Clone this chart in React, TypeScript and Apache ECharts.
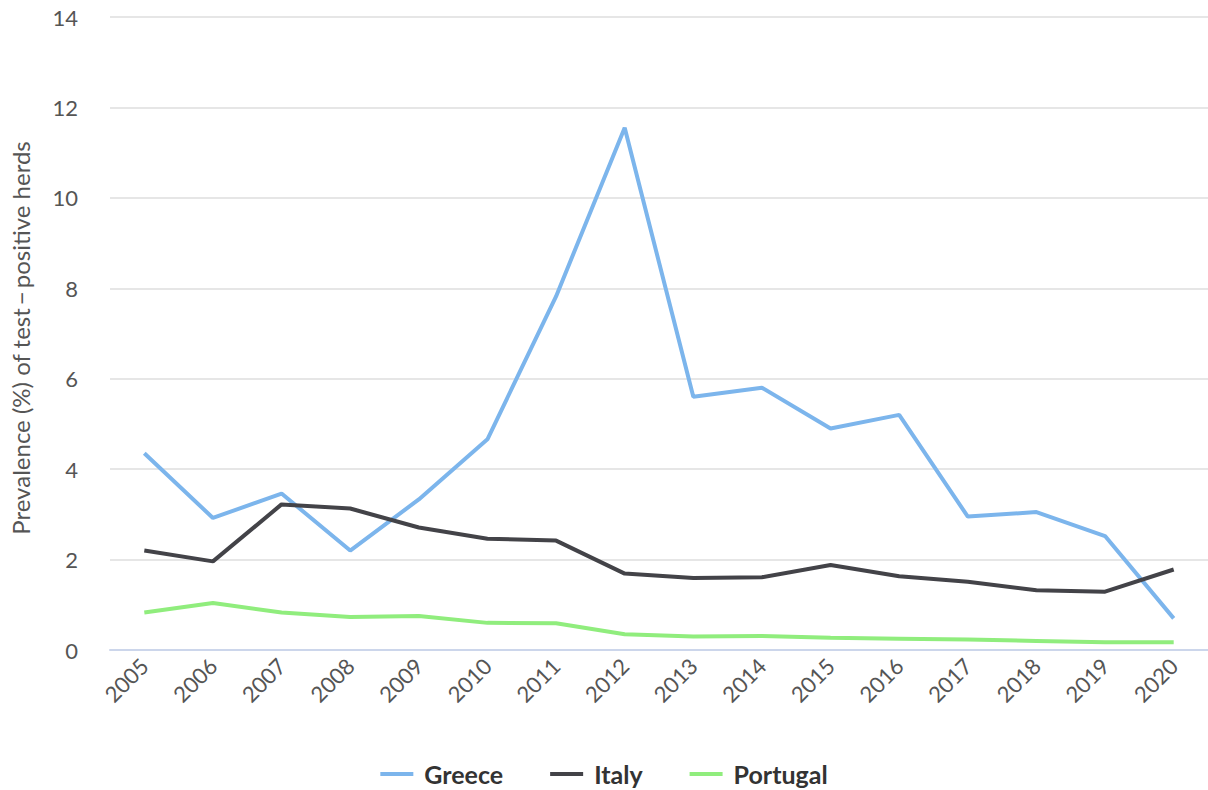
import React, { useEffect, useRef } from "react";
import * as echarts from "echarts";

const years = ["2005","2006","2007","2008","2009","2010","2011","2012","2013","2014","2015","2016","2017","2018","2019","2020"];
const greece = [4.35, 2.92, 3.46, 2.2, 3.33, 4.66, 7.82, 11.55, 5.6, 5.8, 4.9, 5.2, 2.95, 3.05, 2.52, 0.7];
const italy = [2.2, 1.96, 3.22, 3.13, 2.71, 2.46, 2.42, 1.69, 1.59, 1.61, 1.88, 1.63, 1.51, 1.32, 1.29, 1.78];
const portugal = [0.83, 1.04, 0.83, 0.73, 0.75, 0.6, 0.59, 0.35, 0.3, 0.31, 0.27, 0.25, 0.23, 0.2, 0.17, 0.17];
const yTitle = "Prevalence (%) of test\u2009\u2212\u2009positive herds";

export default function App() {
  const ref = useRef<HTMLDivElement>(null);
  useEffect(() => {
    const chart = echarts.init(ref.current!, null, { renderer: "svg" });
    const font = "Lato, 'Noto Sans', sans-serif";
    const mk = (name: string, data: number[], color: string) => ({
      name, type: "line", data, symbol: "none", color,
      lineStyle: { width: 4, color },
    });
    chart.setOption({
      animation: false,
      textStyle: { fontFamily: font },
      grid: { left: 110, right: 0, top: 17, bottom: 140, containLabel: false },
      legend: {
        top: 761, left: "center", padding: 0,
        icon: "rect", itemWidth: 33, itemHeight: 4, itemGap: 47,
        textStyle: { fontFamily: font, fontSize: 25, lineHeight: 26, fontWeight: "bold", color: "#333", padding: [0, 0, 0, 6] },
        data: ["Greece", "Italy", "Portugal"],
      },
      xAxis: {
        type: "category", data: years, boundaryGap: true,
        axisLine: { lineStyle: { color: "#ccd6eb", width: 2 } },
        axisTick: { show: false },
        axisLabel: { rotate: 45, margin: 12, fontSize: 22, color: "#555", fontFamily: font, interval: 0 },
      },
      yAxis: {
        type: "value", min: 0, max: 14, interval: 2,
        axisLine: { show: false }, axisTick: { show: false },
        splitLine: { lineStyle: { color: "#e6e6e6", width: 2 } },
        axisLabel: { margin: 32, fontSize: 22, color: "#555", fontFamily: font },
      },
      graphic: [{
        type: "text", x: 20, y: 338, rotation: Math.PI / 2,
        style: { text: yTitle, fontSize: 24, fill: "#555", fontFamily: font, align: "center", verticalAlign: "middle" },
      }],
      series: [
        mk("Greece", greece, "#7cb5ec"),
        mk("Italy", italy, "#434348"),
        mk("Portugal", portugal, "#90ed7d"),
      ],
    });
    return () => chart.dispose();
  }, []);
  return <div ref={ref} style={{ position: "absolute", left: 0, top: 0, width: 1208, height: 790 }} />;
}
